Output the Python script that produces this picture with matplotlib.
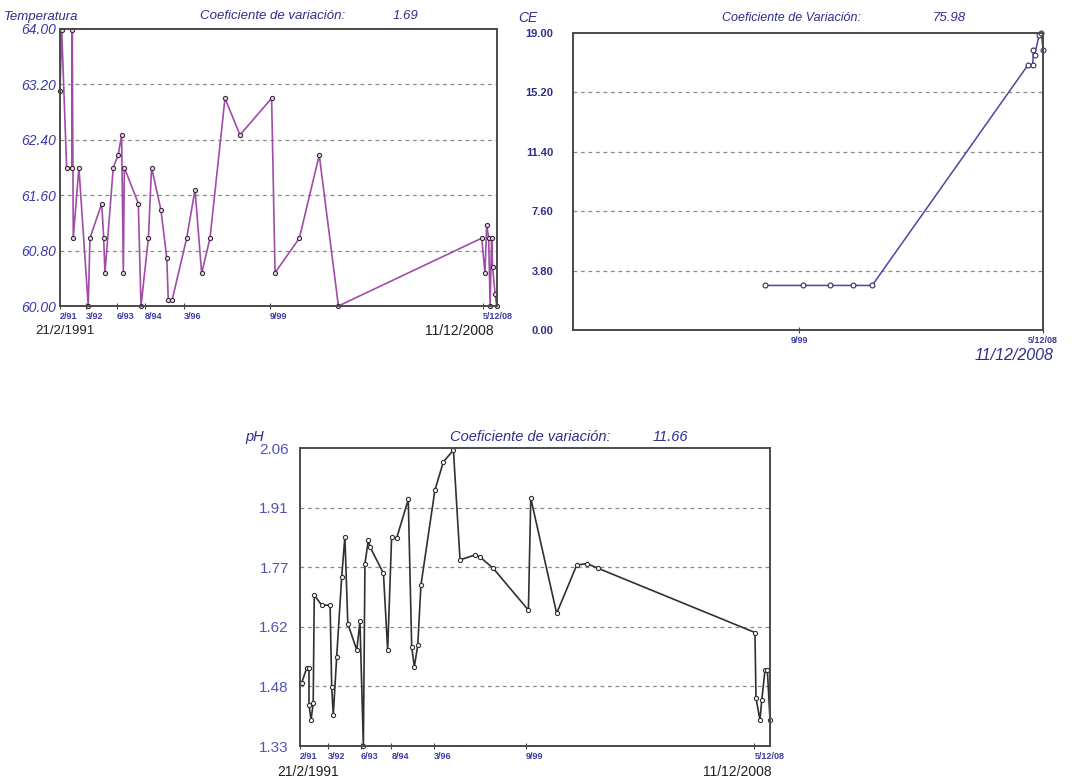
import matplotlib.pyplot as plt
import numpy as np

plt.rcParams["font.family"] = ["Liberation Sans", "DejaVu Sans"]

W, H = 1076, 783

# --- series (time in decimal years) ---
temp_years = [1991.14, 1991.21, 1991.41, 1991.62, 1991.64, 1991.68, 1991.91, 1992.29,
              1992.36, 1992.84, 1992.92, 1992.97, 1993.31, 1993.51, 1993.65, 1993.72,
              1993.76, 1994.33, 1994.44, 1994.74, 1994.87, 1995.25, 1995.49, 1995.55,
              1995.71, 1996.30, 1996.64, 1996.91, 1997.25, 1997.86, 1998.47, 1999.76,
              1999.90, 2000.89, 2001.70, 2002.48, 2008.32, 2008.45, 2008.52, 2008.60,
              2008.66, 2008.72, 2008.76, 2008.86, 2008.93]
temp_values = [63.10, 63.98, 62.00, 62.00, 63.98, 60.98, 62.00, 60.00,
               60.98, 61.48, 60.98, 60.47, 62.00, 62.18, 62.47, 60.47,
               62.00, 61.48, 60.00, 60.98, 62.00, 61.39, 60.69, 60.09,
               60.09, 60.98, 61.68, 60.47, 60.98, 63.00, 62.47, 63.00,
               60.48, 60.98, 62.18, 60.00, 60.98, 60.47, 61.17, 60.98,
               60.00, 60.98, 60.57, 60.18, 60.00]

ce_years = [1998.41, 1999.85, 2000.87, 2001.75, 2002.47, 2008.37, 2008.55,
            2008.58, 2008.62, 2008.80, 2008.88, 2008.94]
ce_values = [2.85, 2.85, 2.85, 2.85, 2.85, 16.95, 16.95,
             17.90, 17.60, 18.90, 19.00, 17.90]

ph_years = [1991.20, 1991.39, 1991.48, 1991.48, 1991.56, 1991.64, 1991.68, 1991.96,
            1992.28, 1992.34, 1992.40, 1992.53, 1992.72, 1992.84, 1992.95, 1993.29,
            1993.41, 1993.54, 1993.60, 1993.73, 1993.79, 1994.30, 1994.46, 1994.61,
            1994.80, 1995.24, 1995.37, 1995.47, 1995.60, 1995.72, 1996.25, 1996.57,
            1996.95, 1997.20, 1997.77, 1997.96, 1998.46, 1999.79, 1999.88, 2000.86,
            2001.62, 2002.00, 2002.44, 2008.37, 2008.41, 2008.56, 2008.63, 2008.75,
            2008.84, 2008.94]
ph_values = [1.484, 1.520, 1.520, 1.430, 1.394, 1.435, 1.700, 1.675,
             1.675, 1.475, 1.406, 1.549, 1.745, 1.843, 1.630, 1.565,
             1.635, 1.330, 1.777, 1.835, 1.818, 1.753, 1.565, 1.843,
             1.839, 1.934, 1.573, 1.524, 1.577, 1.724, 1.957, 2.026,
             2.055, 1.786, 1.798, 1.793, 1.765, 1.663, 1.937, 1.655,
             1.773, 1.777, 1.765, 1.608, 1.447, 1.394, 1.443, 1.516,
             1.516, 1.394]

date_ticks = [1991.14, 1992.20, 1993.45, 1994.60, 1996.20, 1999.70, 2008.35]
date_labels = ["2/91", "3/92", "6/93", "8/94", "3/96", "9/99", "5/12/08"]
ce_ticks = [1999.70, 2008.94]
ce_tick_labels = ["9/99", "5/12/08"]

t0, t1 = 1991.14, 2008.94
NAVY = "#2e2e8c"
BLUE = "#3a3aa8"


def box(l, t, r, b):
    return [l / W, 1 - b / H, (r - l) / W, (b - t) / H]


def ftext(x, y, s, **kw):
    fig.text(x / W, 1 - y / H, s, va="center", **kw)


def frame(ax, lo, hi, n=5):
    ticks = np.linspace(lo, hi, n + 1)
    ax.set_xlim(t0, t1)
    ax.set_ylim(lo, hi)
    ax.set_yticks(ticks)
    for v in ticks[1:-1]:
        ax.axhline(v, color="#8a8a8a", lw=0.9, dashes=(3, 3), zorder=0)
    for s in ax.spines.values():
        s.set_color("#4a4a4a")
        s.set_linewidth(1.4)
    ax.tick_params(axis="y", length=0)
    ax.tick_params(axis="x", direction="inout", length=4, width=0.8,
                   color="#4a4a4a", labelsize=6.5, labelcolor=BLUE, pad=2)
    return ticks


fig = plt.figure(figsize=(W / 100, H / 100), dpi=100)
fig.patch.set_facecolor("white")

# ==========================
# Temperatura
# ==========================
ax1 = fig.add_axes(box(60, 29, 497, 306))
yt = frame(ax1, 60.0, 64.0)
ax1.set_yticklabels([f"{v:.2f}" for v in yt], color=BLUE, fontsize=10,
                    style="italic")
ax1.tick_params(axis="y", pad=3)
ax1.set_xticks(date_ticks)
ax1.set_xticklabels(date_labels, ha="left", fontweight="bold")
ax1.plot(temp_years, temp_values, color="#a04ca8", lw=1.2, marker="o", ms=3,
         mfc="#e8d8ea", mec="#3a2a3a", mew=0.8, clip_on=False)

ftext(4, 17, "Temperatura", color=NAVY, fontsize=9.5, style="italic")
ftext(200, 16, "Coeficiente de variación:", color=NAVY, fontsize=9.5,
      style="italic")
ftext(393, 16, "1.69", color=NAVY, fontsize=9.5, style="italic")
ftext(35, 331, "21/2/1991", color="#202020", fontsize=9.5)
ftext(425, 331, "11/12/2008", color="#202020", fontsize=10)

# ==========================
# CE
# ==========================
ax2 = fig.add_axes(box(573, 33, 1043, 330))
yt = frame(ax2, 0.0, 19.0)
ax2.set_yticklabels([f"{v:.2f}" for v in yt], color=NAVY, fontsize=8,
                    fontweight="bold")
ax2.tick_params(axis="y", pad=14)
ax2.set_xticks(ce_ticks)
ax2.set_xticklabels(ce_tick_labels, fontweight="bold")
ax2.plot(ce_years, ce_values, color="#4848a0", lw=1.1, marker="o", ms=3.5,
         mfc="white", mec="#303060", mew=0.8, clip_on=False)

ftext(518, 18, "CE", color=NAVY, fontsize=10, style="italic")
ftext(722, 18, "Coeficiente de Variación:", color=NAVY, fontsize=9,
      style="italic")
ftext(933, 18, "75.98", color=NAVY, fontsize=9.5, style="italic")
ftext(975, 356, "11/12/2008", color=NAVY, fontsize=11.5, style="italic")

# ==========================
# pH
# ==========================
ax3 = fig.add_axes(box(300, 448, 770, 746))
yt = frame(ax3, 1.33, 2.06)
ax3.set_yticklabels([f"{v:.2f}" for v in yt], color="#5454b4", fontsize=11)
ax3.tick_params(axis="y", pad=8)
ax3.set_xticks(date_ticks)
ax3.set_xticklabels(date_labels, ha="left", fontweight="bold")
ax3.plot(ph_years, ph_values, color="#303030", lw=1.2, marker="o", ms=3,
         mfc="white", mec="#303030", mew=0.8, clip_on=False)

ftext(245, 437, "pH", color=NAVY, fontsize=10.5, style="italic")
ftext(450, 437, "Coeficiente de variación:", color=NAVY, fontsize=10.5,
      style="italic")
ftext(653, 437, "11.66", color=NAVY, fontsize=10.5, style="italic")
ftext(277, 772, "21/2/1991", color="#202020", fontsize=10)
ftext(703, 772, "11/12/2008", color="#202020", fontsize=10)

fig.savefig("out.png", dpi=100)
